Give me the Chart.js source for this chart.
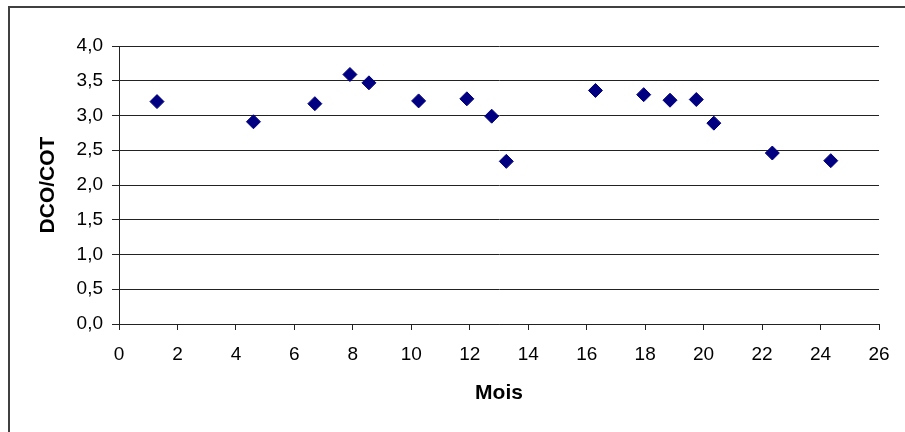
<!DOCTYPE html>
<html>
<head>
<meta charset="utf-8">
<script src="https://cdn.jsdelivr.net/npm/chart.js@4"></script>
<style>
  html, body { margin: 0; padding: 0; background: #fff; overflow: hidden; }
  #frame {
    position: absolute; left: 8px; top: 6px;
    width: 1000px; height: 1000px;
    border-left: 2px solid #404040; border-top: 2px solid #404040;
  }
  #wrap { position: absolute; left: 0; top: 0; width: 905px; height: 432px; }
</style>
</head>
<body>
<div id="frame"></div>
<div id="wrap"><canvas id="chart" width="905" height="432"></canvas></div>
<script>
// months (x) and DCO/COT ratio (y)
const months = [1.3, 4.6, 6.7, 7.9, 8.55, 10.25, 11.9, 12.75, 13.25, 16.3, 17.95, 18.85, 19.75, 20.35, 22.35, 24.35];
const ratios = [3.20, 2.91, 3.17, 3.59, 3.47, 3.21, 3.24, 2.99, 2.34, 3.36, 3.30, 3.22, 3.23, 2.89, 2.46, 2.35];

const xTitle = "Mois";
const yTitle = "DCO/COT";

const points = months.map((m, i) => ({ x: m, y: ratios[i] }));
const fmt = v => v.toFixed(1).replace('.', ',');

const font = "'Liberation Sans', Arial, sans-serif";

new Chart(document.getElementById("chart").getContext("2d"), {
  type: "scatter",
  data: {
    datasets: [{
      data: points,
      pointStyle: "rectRot",
      pointRadius: 7,
      pointHoverRadius: 7,
      backgroundColor: "#000080",
      borderColor: "#000080",
      borderWidth: 1
    }]
  },
  options: {
    responsive: false,
    animation: false,
    layout: { padding: { left: 0, right: 26, top: 46, bottom: 0 } },
    plugins: { legend: { display: false }, tooltip: { enabled: false } },
    scales: {
      x: {
        type: "linear",
        min: 0, max: 26,
        ticks: { stepSize: 2, color: "#000", padding: 13, maxRotation: 0, font: { family: font, size: 19 } },
        grid: { drawOnChartArea: false, drawTicks: true, tickLength: 6, color: "#222" },
        border: { display: true, color: "#222", width: 1 },
        title: { display: true, text: xTitle, color: "#000", padding: { top: 0, bottom: 26 }, font: { family: font, size: 21, weight: "bold" } },
        afterFit: s => { s.height = 108; }
      },
      y: {
        min: 0, max: 4,
        ticks: { stepSize: 0.5, color: "#000", padding: 9, callback: v => fmt(v), font: { family: font, size: 19 } },
        grid: { color: "#222", tickLength: 7, drawTicks: true },
        border: { display: true, color: "#222", width: 1 },
        title: { display: true, text: yTitle, color: "#000", padding: { top: 36, bottom: 0 }, font: { family: font, size: 21, weight: "bold" } },
        afterFit: s => { s.width = 119; }
      }
    }
  }
});
</script>
</body>
</html>
